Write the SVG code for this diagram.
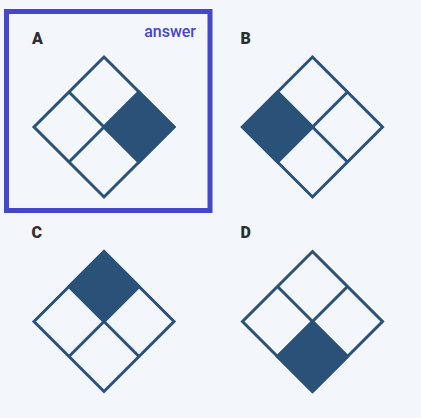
<svg xmlns="http://www.w3.org/2000/svg" width="421" height="418" viewBox="0 0 421 418">
  <style>
    .lbl { font-family: Roboto, "Liberation Sans", Arial, sans-serif; font-weight: 900; font-size: 16px; fill: #2d2d2d; }
    .ans { font-family: Roboto, "Liberation Sans", Arial, sans-serif; font-weight: 500; font-size: 16px; fill: #4646c8; }
    .cell { fill: none; stroke: #2a5278; stroke-width: 3; stroke-linejoin: miter; }
    .fill { fill: #2a5278; stroke: #2a5278; stroke-width: 3; }
  </style>
  <rect x="0" y="0" width="421" height="418" fill="#f3f7fc"/>
  <g id="optionA">
    <rect x="6.5" y="11.5" width="203.5" height="199" fill="none" stroke="#4646c8" stroke-width="5"/>
    <text class="lbl" x="32" y="44">A</text>
    <text class="ans" x="196" y="37" text-anchor="end">answer</text>
    <g transform="translate(104,127)">
      <polygon class="fill" points="35,-35 70,0 35,35 0,0"/>
      <polygon class="cell" points="0,-70 70,0 0,70 -70,0"/>
      <line class="cell" x1="-35" y1="-35" x2="35" y2="35"/>
      <line class="cell" x1="35" y1="-35" x2="-35" y2="35"/>
    </g>
  </g>
  <g id="optionB">
    <text class="lbl" x="240.5" y="44">B</text>
    <g transform="translate(312.5,127)">
      <polygon class="fill" points="-35,-35 0,0 -35,35 -70,0"/>
      <polygon class="cell" points="0,-70 70,0 0,70 -70,0"/>
      <line class="cell" x1="-35" y1="-35" x2="35" y2="35"/>
      <line class="cell" x1="35" y1="-35" x2="-35" y2="35"/>
    </g>
  </g>
  <g id="optionC">
    <text class="lbl" x="31.5" y="238">C</text>
    <g transform="translate(104,321.5)">
      <polygon class="fill" points="0,-70 35,-35 0,0 -35,-35"/>
      <polygon class="cell" points="0,-70 70,0 0,70 -70,0"/>
      <line class="cell" x1="-35" y1="-35" x2="35" y2="35"/>
      <line class="cell" x1="35" y1="-35" x2="-35" y2="35"/>
    </g>
  </g>
  <g id="optionD">
    <text class="lbl" x="240.5" y="238">D</text>
    <g transform="translate(312.5,321.5)">
      <polygon class="fill" points="0,0 35,35 0,70 -35,35"/>
      <polygon class="cell" points="0,-70 70,0 0,70 -70,0"/>
      <line class="cell" x1="-35" y1="-35" x2="35" y2="35"/>
      <line class="cell" x1="35" y1="-35" x2="-35" y2="35"/>
    </g>
  </g>
</svg>
